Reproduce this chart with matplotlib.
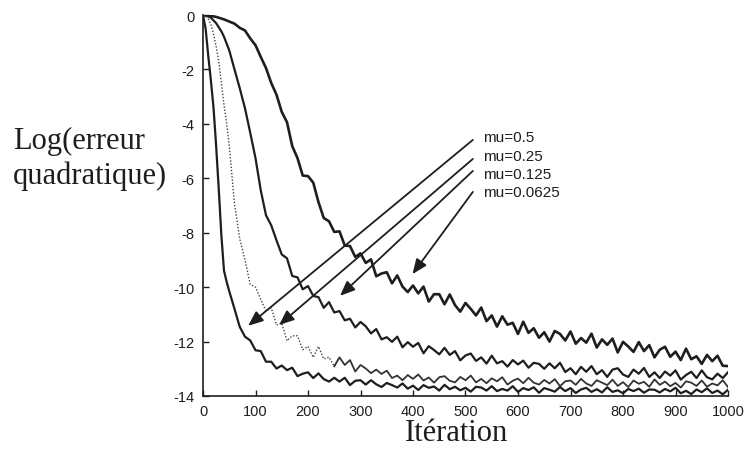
import numpy as np
import matplotlib
matplotlib.use("Agg")
import matplotlib.pyplot as plt

plt.rcParams['axes.unicode_minus'] = False

# ---- data -----------------------------------------------------------------
iterations = [0, 5, 10, 15, 20, 25, 30, 35, 40, 45, 50] + list(range(60, 1001, 10))

err_mu_0625 = [
    0.0, -0.01, -0.02, -0.03, -0.05, -0.07, -0.1, -0.13, -0.16, -0.2, -0.24,
    -0.32, -0.47, -0.57, -0.86, -1.11, -1.54, -1.95, -2.5, -2.93, -3.56,
    -3.94, -4.82, -5.26, -5.9, -5.92, -6.16, -6.88, -7.46, -7.58, -7.97,
    -7.95, -8.47, -8.49, -8.89, -8.76, -9.11, -8.98, -9.6, -9.5, -9.45,
    -9.86, -9.57, -9.98, -10.18, -9.94, -10.23, -9.98, -10.53, -10.26, -10.26,
    -10.63, -10.27, -10.66, -10.9, -10.58, -10.8, -11.04, -10.75, -11.25, -11.04,
    -11.45, -11.07, -11.38, -11.31, -11.72, -11.27, -11.68, -11.51, -11.86, -11.66,
    -12.0, -11.61, -11.72, -11.96, -11.63, -12.08, -11.87, -12.04, -11.71, -12.22,
    -11.92, -12.12, -11.89, -12.4, -12.01, -12.18, -12.38, -12.02, -12.35, -12.13,
    -12.58, -12.3, -12.19, -12.56, -12.37, -12.68, -12.26, -12.65, -12.54, -12.82,
    -12.49, -12.72, -12.52, -12.89, -12.9,
]

err_mu_125 = [
    0.0, -0.02, -0.05, -0.1, -0.2, -0.3, -0.45, -0.6, -0.8, -1.05, -1.3,
    -2.0, -2.69, -3.43, -4.33, -5.26, -6.44, -7.36, -7.73, -8.28, -8.8,
    -8.94, -9.59, -9.64, -10.08, -9.96, -10.32, -10.37, -10.76, -10.55, -10.93,
    -10.88, -11.22, -11.16, -11.48, -11.28, -11.44, -11.7, -11.54, -11.92, -11.84,
    -12.01, -11.82, -12.21, -12.02, -12.19, -12.05, -12.43, -12.17, -12.31, -12.47,
    -12.23, -12.49, -12.35, -12.69, -12.51, -12.44, -12.71, -12.58, -12.81, -12.52,
    -12.8, -12.72, -12.92, -12.68, -12.84, -12.7, -12.96, -12.78, -12.82, -13.0,
    -12.8, -12.98, -12.78, -13.12, -12.98, -13.2, -12.93, -13.11, -12.9, -13.2,
    -13.05, -13.3, -13.03, -12.98, -13.21, -13.3, -13.03, -13.18, -12.97, -13.3,
    -13.13, -13.34, -13.1, -13.25, -13.06, -13.4, -13.23, -13.11, -13.34, -13.06,
    -13.31, -13.39, -13.18, -13.34, -13.13,
]

err_mu_25 = [
    0.0, -0.05, -0.15, -0.35, -0.7, -1.15, -1.7, -2.5, -3.3, -4.0, -4.8,
    -6.94, -8.23, -9.0, -9.9, -10.0, -10.45, -10.88, -10.76, -11.39, -11.32,
    -11.97, -11.79, -11.79, -12.3, -12.18, -12.58, -12.18, -12.64, -12.57, -12.91,
    -12.58, -12.86, -12.68, -13.1, -12.86, -12.99, -13.16, -13.03, -13.19, -13.07,
    -13.34, -13.25, -13.42, -13.23, -13.37, -13.21, -13.43, -13.32, -13.51, -13.31,
    -13.27, -13.44, -13.5, -13.3, -13.42, -13.25, -13.5, -13.37, -13.53, -13.35,
    -13.46, -13.31, -13.58, -13.44, -13.36, -13.53, -13.33, -13.51, -13.58, -13.41,
    -13.54, -13.38, -13.64, -13.46, -13.43, -13.59, -13.37, -13.54, -13.63, -13.42,
    -13.51, -13.6, -13.4, -13.63, -13.49, -13.67, -13.43, -13.55, -13.48, -13.66,
    -13.39, -13.59, -13.47, -13.64, -13.52, -13.69, -13.46, -13.51, -13.63, -13.43,
    -13.66, -13.54, -13.61, -13.42, -13.67,
]

err_mu_5 = [
    0.0, -0.5, -1.5, -2.4, -3.4, -4.8, -6.4, -8.1, -9.4, -9.8, -10.15,
    -10.8, -11.46, -11.82, -11.96, -12.32, -12.35, -12.74, -12.74, -12.99, -12.88,
    -13.05, -12.96, -13.27, -13.18, -13.13, -13.34, -13.17, -13.38, -13.47, -13.33,
    -13.47, -13.33, -13.6, -13.44, -13.42, -13.58, -13.42, -13.57, -13.67, -13.52,
    -13.6, -13.69, -13.54, -13.73, -13.62, -13.78, -13.6, -13.7, -13.65, -13.8,
    -13.59, -13.75, -13.66, -13.79, -13.7, -13.84, -13.66, -13.69, -13.8, -13.64,
    -13.82, -13.74, -13.8, -13.64, -13.85, -13.71, -13.78, -13.68, -13.88, -13.71,
    -13.77, -13.84, -13.67, -13.82, -13.71, -13.89, -13.76, -13.7, -13.85, -13.75,
    -13.87, -13.68, -13.85, -13.79, -13.9, -13.74, -13.82, -13.73, -13.88, -13.76,
    -13.77, -13.87, -13.74, -13.83, -13.7, -13.9, -13.81, -13.93, -13.76, -13.86,
    -13.72, -13.89, -13.8, -13.94, -13.77,
]

labels = ["mu=0.5", "mu=0.25", "mu=0.125", "mu=0.0625"]
label_y = [-4.5, -5.17, -5.84, -6.52]
arrow_start = [(514, -4.59), (514, -5.29), (514, -5.73), (514, -6.5)]
arrow_tip = [(86, -11.42), (145, -11.39), (261, -10.32), (399, -9.52)]

xticks = list(range(0, 1001, 100))
yticks = list(range(0, -15, -2))

# ---- figure ---------------------------------------------------------------
fig = plt.figure(figsize=(7.5, 4.52), dpi=100)
ax = fig.add_axes([203 / 750, 1 - 397 / 452, 525 / 750, 381 / 452])

x = np.array(iterations)
ink = '#1e1e1e'

ax.plot(x, err_mu_0625, color=ink, lw=1.9)
ax.plot(x, err_mu_125, color=ink, lw=1.6)
y25 = np.array(err_mu_25)
early = x <= 260
late = x >= 250
ax.plot(x[early], y25[early], color='#444444', lw=1.0, ls=(0, (1, 1.3)))
ax.plot(x[late], y25[late], color='#333333', lw=1.3)
ax.plot(x, err_mu_5, color=ink, lw=1.6)

for lab, ly in zip(labels, label_y):
    ax.text(533, ly, lab, fontsize=11, family='Liberation Sans',
            ha='left', va='center', color=ink)

for (sx, sy), (tx, ty) in zip(arrow_start, arrow_tip):
    ax.annotate('', xy=(tx, ty), xytext=(sx, sy),
                arrowprops=dict(arrowstyle='-|>,head_length=0.6,head_width=0.25',
                                color=ink, lw=1.3, mutation_scale=15,
                                shrinkA=0, shrinkB=0))

ax.set_xlim(0, 1000)
ax.set_ylim(-14, 0)
ax.set_xticks(xticks)
ax.set_yticks(yticks)
ax.spines['top'].set_visible(False)
ax.spines['right'].set_visible(False)
for s in ('left', 'bottom'):
    ax.spines[s].set_linewidth(1.2)
    ax.spines[s].set_color(ink)
ax.tick_params(direction='in', length=4, width=1, colors=ink, pad=6,
               labelsize=10.5)
for lbl in ax.get_xticklabels() + ax.get_yticklabels():
    lbl.set_family('Liberation Sans')

fig.text(13 / 750, 1 - 159 / 452, "Log(erreur\nquadratique)",
         family='Liberation Serif', fontsize=22, ha='left', va='center',
         multialignment='left', linespacing=1.25, color=ink)
fig.text(456 / 750, 1 - 434 / 452, "Itération",
         family='Liberation Serif', fontsize=22, ha='center', va='center',
         color=ink)

fig.savefig("out.png", dpi=100)
